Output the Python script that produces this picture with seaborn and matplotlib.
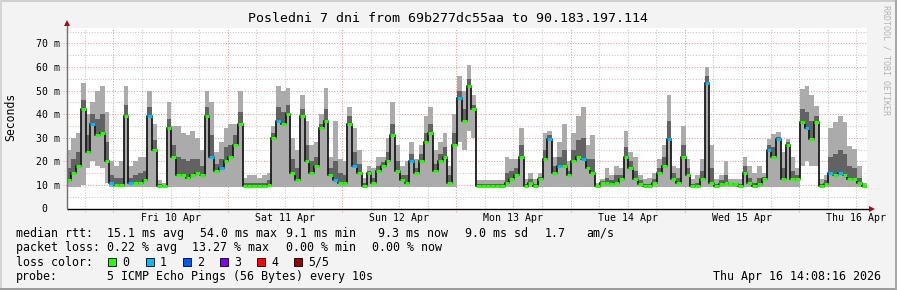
import numpy as np
import pandas as pd
import matplotlib
matplotlib.use("Agg")
import matplotlib.pyplot as plt
from matplotlib.patches import Rectangle
import seaborn as sns

# ---------------- data (hourly bins, hour 0 = Thu Apr 9 14:08:16) ----------------
hours = list(range(168))

median_ms = [
    12, 15, 18, 42, 24, 36, 31, 32, 20, 11, 10, 10,
    39, 11, 11, 11, 12, 39, 25, 9.5, 9.5, 34, 22, 14,
    14, 13, 14, 15, 14, 39, 22, 16, 17, 20, 22, 27,
    36, 9.5, 9.5, 9.5, 9.5, 9.5, 10, 30, 37, 36, 40, 15,
    12, 39, 20, 15, 18, 34, 37, 14, 12, 11, 11, 36,
    18, 15, 9.5, 15, 11, 16, 18, 20, 31, 16, 12, 11,
    20, 15, 20, 28, 32, 16, 20, 22, 11, 27, 47, 37,
    52, 42, 9.5, 9.5, 9.5, 9.5, 9.5, 9.5, 11, 12.6, 14, 22,
    9.5, 11, 9.5, 12.6, 21, 29.5, 15, 18, 18, 14, 20, 22,
    21, 17, 15, 9.5, 11, 11, 10.5, 11, 12.6, 22, 17, 12.6,
    10.5, 9.5, 9.5, 11, 15, 18, 29.5, 12.6, 11, 22, 14, 9.5,
    9.5, 12.6, 53, 11, 9.5, 10.5, 11, 10.5, 10.5, 9.5, 15, 11,
    9.5, 10.5, 12.6, 25, 22, 29.5, 12.6, 27, 12.6, 12.6, 36.6, 34,
    29.5, 36.6, 9.5, 10.5, 15, 14, 15, 14, 12.6, 12.6, 11, 9.5,
]

max_ms = [
    25, 30, 32, 53, 40, 45, 50, 52, 41, 20, 18, 20,
    52, 18, 20, 22, 22, 50, 36, 12, 11, 45, 35, 35,
    32, 31, 33, 30, 25, 50, 45, 24, 28, 34, 36, 36,
    50, 13, 14, 14, 13, 14, 15, 35, 52, 50, 51, 30,
    25, 48, 37, 27, 28, 40, 51, 22, 37, 21, 20, 43,
    34, 25, 13, 18, 17, 22, 22, 30, 45, 27, 18, 20,
    28, 21, 27, 39, 43, 25, 28, 32, 18, 40, 56, 50,
    61, 48, 12, 12, 12, 12, 12, 12, 22, 21, 21, 34,
    12.6, 15, 12.6, 15, 32, 33, 22, 28, 36, 20, 32, 39,
    43, 27, 31, 11, 12.6, 17, 14, 18, 17, 33, 24, 22,
    14, 12.6, 13, 15, 21, 27, 48, 18, 17, 35, 21, 12.6,
    14, 21, 60, 27, 12.6, 14, 20, 12.6, 12.6, 12.6, 22, 18,
    15, 18, 15, 29.5, 31.6, 32.4, 24, 29.5, 22, 17, 50.7, 52,
    48, 43.6, 12.6, 14, 34, 36.6, 39.4, 36.6, 26.7, 25.3, 18, 11,
]

dense_hi_ms = [
    17, 21, 24, 46, 31, 40, 38, 40, 28, 14, 13, 13,
    44, 13, 14, 15, 16, 43, 29, 10.5, 10, 38, 27, 22,
    21, 20, 21, 21, 18, 43, 31, 19, 21, 26, 27, 31,
    41, 11, 11, 11, 11, 11, 12, 32, 43, 41, 44, 21,
    17, 42, 27, 20, 22, 36, 42, 17, 20, 15, 14, 39,
    24, 19, 11, 16, 13, 18, 19.5, 24, 36, 20, 14, 14,
    23, 17, 23, 32, 36, 19, 23, 26, 14, 32, 50, 42,
    55, 44, 10.5, 10.5, 10.5, 10.5, 10.5, 10.5, 15, 16, 17, 27,
    10.5, 12.5, 10.5, 13.5, 25, 31, 18, 22, 25, 16, 25, 29,
    30, 21, 21, 10, 11.5, 13, 12, 14, 14, 26, 20, 16,
    12, 10.5, 10.5, 12.5, 17, 22, 37, 15, 13, 27, 17, 10.5,
    11, 16, 56, 17, 10.5, 12, 14, 11, 11, 10.5, 18, 13,
    11, 13, 13.5, 27, 26, 30.5, 17, 28, 16, 14, 42, 41,
    37, 39, 10.5, 12, 22, 23, 25, 23, 18, 17, 13, 10,
]

min_ms = [
    9.2, 9.2, 9.2, 10, 17, 20, 18, 17, 11, 9.2, 9.2, 9.2,
    9.2, 9.2, 9.2, 9.2, 9.2, 9.2, 9.2, 9.2, 9.2, 9.2, 9.2, 9.2,
    9.2, 9.2, 9.2, 9.2, 9.2, 9.2, 9.2, 9.2, 9.2, 9.2, 9.2, 9.2,
    9.2, 9.2, 9.2, 9.2, 9.2, 9.2, 9.2, 9.2, 9.2, 9.2, 9.2, 9.2,
    9.2, 9.2, 9.2, 9.2, 9.2, 9.2, 9.2, 9.2, 9.2, 9.2, 9.2, 9.2,
    9.2, 9.2, 9.2, 9.2, 9.2, 9.2, 9.2, 9.2, 9.2, 9.2, 9.2, 9.2,
    9.2, 9.2, 9.2, 9.2, 9.2, 9.2, 9.2, 9.2, 9.2, 9.2, 28, 25,
    33, 30, 9.2, 9.2, 9.2, 9.2, 9.2, 9.2, 9.2, 9.2, 9.2, 9.2,
    9.2, 9.2, 9.2, 9.2, 9.2, 9.2, 9.2, 9.2, 9.2, 9.2, 9.2, 9.2,
    9.2, 9.2, 9.2, 9.2, 9.2, 9.2, 9.2, 9.2, 9.2, 9.2, 9.2, 9.2,
    9.2, 9.2, 9.2, 9.2, 9.2, 9.2, 9.2, 9.2, 9.2, 9.2, 9.2, 9.2,
    9.2, 9.2, 9.2, 9.2, 9.2, 9.2, 9.2, 9.2, 9.2, 9.2, 9.2, 9.2,
    9.2, 9.2, 9.2, 9.2, 9.2, 9.2, 9.2, 9.2, 9.2, 9.2, 18, 20,
    18, 18, 9.2, 9.2, 9.2, 9.2, 9.2, 9.2, 9.2, 9.2, 9.2, 9.2,
]

loss = [
    0, 0, 0, 0, 0, 1, 0, 0, 0, 1, 0, 0,
    0, 1, 0, 0, 0, 1, 0, 0, 0, 0, 0, 0,
    0, 0, 0, 0, 0, 0, 1, 0, 1, 0, 0, 0,
    0, 0, 0, 0, 0, 0, 0, 0, 1, 0, 0, 0,
    0, 0, 0, 0, 0, 0, 0, 0, 1, 0, 0, 0,
    1, 0, 0, 0, 0, 0, 0, 0, 0, 0, 0, 0,
    1, 0, 0, 0, 0, 0, 0, 0, 0, 0, 1, 0,
    0, 0, 0, 0, 0, 0, 0, 0, 0, 0, 0, 0,
    0, 0, 0, 0, 0, 1, 0, 1, 0, 0, 0, 0,
    1, 0, 0, 0, 0, 0, 0, 0, 0, 0, 0, 0,
    0, 0, 0, 0, 0, 0, 1, 0, 0, 0, 0, 0,
    0, 0, 1, 0, 0, 0, 0, 0, 0, 0, 0, 0,
    0, 0, 0, 1, 0, 1, 0, 0, 0, 0, 0, 1,
    0, 0, 0, 0, 1, 0, 1, 0, 0, 0, 0, 0,
]

day_labels = ["Fri 10 Apr", "Sat 11 Apr", "Sun 12 Apr", "Mon 13 Apr",
              "Tue 14 Apr", "Wed 15 Apr", "Thu 16 Apr"]
first_midnight_h = 9.862          # Fri Apr 10 00:00 relative to hour 0
y_ticks = [0, 10, 20, 30, 40, 50, 60, 70]
y_tick_labels = ["0  ", "10 m", "20 m", "30 m", "40 m", "50 m", "60 m", "70 m"]

loss_labels = ["0", "1", "2", "3", "4", "5/5"]
loss_colors = ["#26ff00", "#00b8ff", "#0059ff", "#7e00ff", "#ff0000", "#a10000"]

title = "Posledni 7 dni from 69b277dc55aa to 90.183.197.114"

# ---------------- style ----------------
sns.set_style("white")
MONO = ["DejaVu Sans Mono"]
plt.rcParams["font.family"] = MONO

W, H = 897, 290
L, R, T, B = 66.5, 866.5, 28, 208.5
fig = plt.figure(figsize=(W / 100, H / 100), dpi=100, facecolor="#f3f3f3")
ax = fig.add_axes([L / W, 1 - B / H, (R - L) / W, (B - T) / H])
ax.set_facecolor("white")
ax.set_xlim(0, 168)
ax.set_ylim(0, 76.5)
for s in ax.spines.values():
    s.set_visible(False)

minor_c = "#c8c8c8"
major_c = "#f09a9a"
dots = (0, (1, 1.6))

# horizontal grid
for v in np.arange(5, 80, 10):
    ax.axhline(v, color=minor_c, lw=0.75, ls=dots, zorder=0)
for v in y_ticks[1:]:
    ax.axhline(v, xmin=-4 / 800, xmax=1, color=major_c, lw=0.75, ls=dots,
               zorder=0, clip_on=False)
# vertical grid (every 6 h, red at midnight)
six = [first_midnight_h - 6 + 6 * k for k in range(28)]
for k, xv in enumerate(six):
    col = major_c if (k - 1) % 4 == 0 else minor_c
    ax.axvline(xv, ymin=-3 / 180.5, ymax=1, color=col, lw=0.75, ls=dots,
               zorder=0, clip_on=False)

# ---------------- smoke + median ----------------
edges = hours + [168]
df = pd.DataFrame({
    "h": edges,
    "median": median_ms + [median_ms[-1]],
    "mx": max_ms + [max_ms[-1]],
    "dh": dense_hi_ms + [dense_hi_ms[-1]],
    "mn": min_ms + [min_ms[-1]],
})
ax.fill_between(df["h"], df["mn"], df["mx"], step="post", color="#ababab",
                lw=0, zorder=1)
ax.fill_between(df["h"], df["median"], df["dh"], step="post", color="#626262",
                lw=0, zorder=2)
sns.lineplot(data=df, x="h", y="median", ax=ax, drawstyle="steps-post",
             color="#1a1a1a", lw=1.3, estimator=None, sort=False, zorder=3)
seg_colors = [loss_colors[l] for l in loss]
ax.hlines(median_ms, hours, [h + 1 for h in hours], colors=seg_colors,
          lw=2.2, zorder=4)

ax.set_xlabel("")
ax.set_ylabel("")

# ticks
ax.set_xticks([first_midnight_h + 12 + 24 * k for k in range(7)])
ax.set_xticklabels(day_labels)
ax.set_yticks(y_ticks)
ax.set_yticklabels(y_tick_labels)
ax.tick_params(axis="x", length=0, pad=3.4, labelsize=7.1, colors="#000000")
ax.tick_params(axis="y", length=0, pad=4.6, labelsize=7.1, colors="#000000")
for t in ax.get_xticklabels() + ax.get_yticklabels():
    t.set_family(MONO)

# axis lines with arrows
ax.plot([0, 1 + 4 / 800], [0, 0], transform=ax.transAxes, color="#000000",
        lw=1.0, clip_on=False, zorder=6, solid_capstyle="butt")
ax.plot([0, 0], [0, 1 + 4 / 180.5], transform=ax.transAxes, color="#707070",
        lw=1.0, clip_on=False, zorder=6, solid_capstyle="butt")
ax.plot([1 + 5 / 800], [0], marker=">", ms=4.2, color="#a01010",
        transform=ax.transAxes, clip_on=False, zorder=7, mew=0)
ax.plot([0], [1 + 5.5 / 180.5], marker="^", ms=4.2, color="#a01010",
        transform=ax.transAxes, clip_on=False, zorder=7, mew=0)

# ---------------- texts ----------------
LEG = 8.35

def ftxt(x, y, s, **kw):
    kw.setdefault("fontsize", LEG)
    kw.setdefault("va", "center")
    kw.setdefault("ha", "left")
    fig.text(x / W, 1 - y / H, s, family=MONO, color="#000000", **kw)

ftxt(447.5, 19, title, fontsize=9.5, ha="center")
ftxt(10.5, 117, "Seconds", fontsize=8.3, ha="center", rotation=90)
fig.text(886 / W, 1 - 5 / H, "RRDTOOL / TOBI OETIKER", family=MONO,
         fontsize=6.0, color="#b4b4b4", rotation=270, ha="center", va="top")

y1, y2, y3, y4 = 233.5, 247.7, 262, 276.2
ftxt(15.5, y1, "median rtt:")
for x, s in [(106.5, "15.1 ms avg"), (199.5, "54.0 ms max"), (285.5, "9.1 ms min"),
             (378.5, "9.3 ms now"), (465, "9.0 ms sd"), (544.5, "1.7"),
             (586, "am/s")]:
    ftxt(x, y1, s)
ftxt(15.5, y2, "packet loss:")
for x, s in [(106.5, "0.22 % avg"), (192, "13.27 % max"), (285.5, "0.00 % min"),
             (371.5, "0.00 % now")]:
    ftxt(x, y2, s)
ftxt(15.5, y3, "loss color:")
sq_x = [108, 145.5, 182.5, 219.5, 256.5, 293.5]
for i, (lab, col) in enumerate(zip(loss_labels, loss_colors)):
    fig.patches.append(Rectangle((sq_x[i] / W, 1 - 266 / H), 8 / W, 8 / H,
                                 transform=fig.transFigure, facecolor=col,
                                 edgecolor="#000000", lw=0.6))
    ftxt(sq_x[i] + 14.5, y3, lab)
ftxt(15.5, y4, "probe:")
ftxt(106.5, y4, "5 ICMP Echo Pings (56 Bytes) every 10s")
ftxt(880.5, y4, "Thu Apr 16 14:08:16 2026", ha="right")

# figure frame
for (x0, y0, w, h, c) in [(0, 0, W, 2, "#cfcfcf"), (0, 0, 2, H, "#d4d4d4"),
                          (0, H - 2.5, W, 2.5, "#9c9c9c"),
                          (W - 2.5, 0, 2.5, H, "#a8a8a8")]:
    fig.patches.append(Rectangle((x0 / W, 1 - (y0 + h) / H), w / W, h / H,
                                 transform=fig.transFigure, facecolor=c,
                                 edgecolor="none", lw=0))

fig.savefig("out.png", dpi=100, facecolor=fig.get_facecolor())
